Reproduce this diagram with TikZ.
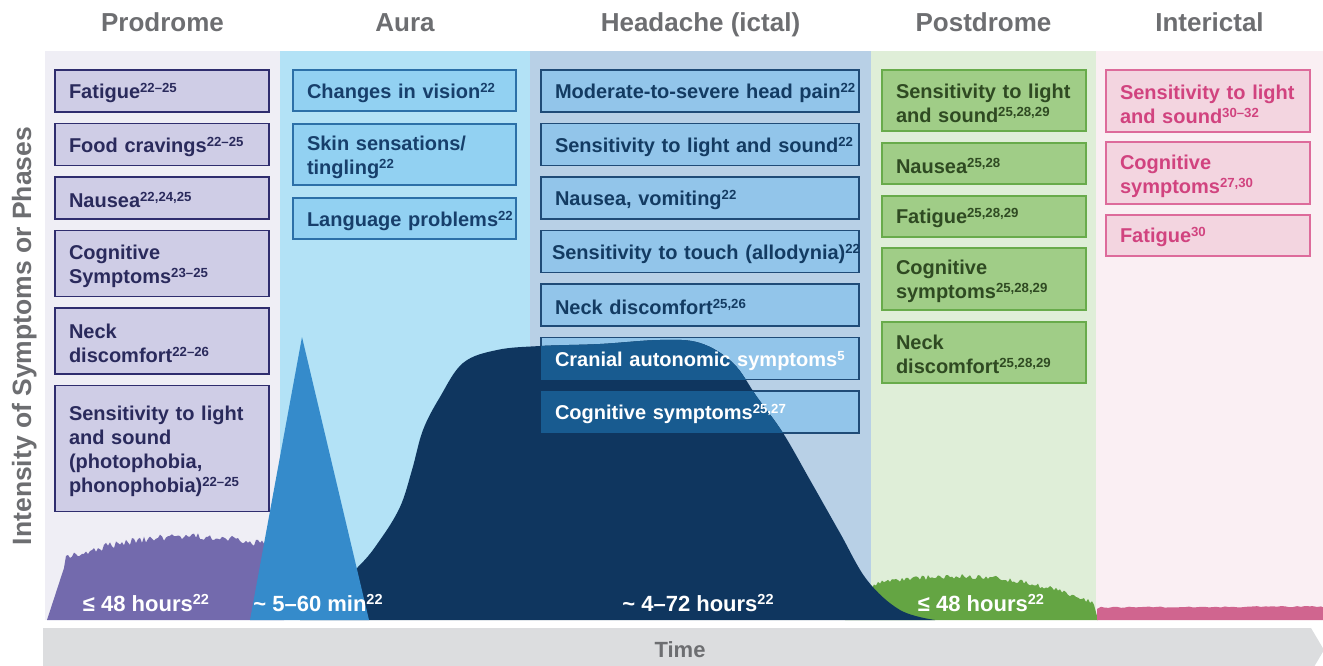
\documentclass[tikz,border=0pt]{standalone}
\usepackage{fontspec}
\setmainfont{Liberation Sans}
\usetikzlibrary{positioning}

\definecolor{greytxt}{HTML}{6D6E71}
\definecolor{timebar}{HTML}{DCDDDF}
\definecolor{probg}{HTML}{EFEEF5}
\definecolor{profill}{HTML}{CFCDE6}
\definecolor{proline}{HTML}{2F2D6E}
\definecolor{protxt}{HTML}{2A2A5C}
\definecolor{prowave}{HTML}{736AAD}
\definecolor{aurbg}{HTML}{B3E2F6}
\definecolor{aurfill}{HTML}{92D1F2}
\definecolor{aurline}{HTML}{2C70A8}
\definecolor{aurtxt}{HTML}{173F6B}
\definecolor{aurpeak}{HTML}{358BCB}
\definecolor{heabg}{HTML}{B8D0E6}
\definecolor{heafill}{HTML}{92C5EA}
\definecolor{healine}{HTML}{1F4B77}
\definecolor{heatxt}{HTML}{133B62}
\definecolor{heamid}{HTML}{185B90}
\definecolor{heawave}{HTML}{0F365F}
\definecolor{posbg}{HTML}{DFEED8}
\definecolor{posfill}{HTML}{A0CD87}
\definecolor{posline}{HTML}{68AB4B}
\definecolor{postxt}{HTML}{2F4A22}
\definecolor{poswave}{HTML}{64A543}
\definecolor{intbg}{HTML}{FAEFF3}
\definecolor{intfill}{HTML}{F3D5E0}
\definecolor{intline}{HTML}{DD6B9B}
\definecolor{inttxt}{HTML}{D1437F}
\definecolor{intwave}{HTML}{D0658F}

% reference numbers
\newcommand{\rf}[1]{\raisebox{0.3em}{\scalebox{0.66}{#1}}}
% outline of the headache phase
\newcommand{\headcurve}{plot[smooth, tension=0.6] coordinates {(300,620) (357,568) (380,540) (400,507) (412,470) (423,430) (440,397) (463,363) (497,350) (540,346) (600,344) (660,340) (700,343) (733,363) (757,397) (783,433) (810,480) (840,533) (867,580) (900,610) (935,620)} -- cycle}

\pgfdeclarelayer{bg}
\pgfdeclarelayer{curve}
\pgfdeclarelayer{over}
\pgfsetlayers{bg,curve,over,main}

\begin{document}
\begin{tikzpicture}[x=1pt, y=-1pt, node distance=11.5pt,
    phase/.style={rectangle, inner sep=0pt, outer sep=0pt, minimum height=569pt, anchor=north west},
    head/.style={font=\fontsize{26}{30}\selectfont\bfseries, text=greytxt, inner sep=0pt, anchor=base},
    sym/.style={rectangle, line width=1.5pt, inner xsep=14pt, inner ysep=0pt, outer sep=0pt, align=left,
        font=\fontsize{20}{24}\selectfont\bfseries, minimum height=42pt,
        execute at begin node={\rule{0pt}{20pt}}},
    probox/.style={sym, draw=proline, fill=profill, text=protxt, text width=186pt},
    aurbox/.style={sym, draw=aurline, fill=aurfill, text=aurtxt, text width=195pt, minimum height=41pt},
    heabox/.style={sym, draw=healine, fill=heafill, text=heatxt, text width=290pt},
    posbox/.style={sym, draw=posline, fill=posfill, text=postxt, text width=176pt, line width=2pt},
    intbox/.style={sym, draw=intline, fill=intfill, text=inttxt, text width=176pt, line width=2pt},
    dur/.style={font=\fontsize{22}{26}\selectfont\bfseries, text=white, inner sep=0pt, anchor=base},
    declare function={prolevel(\x)=537+0.0014*(\x-190)*(\x-190);
        poslevel(\x)=577+(\x<960 ? 0.00106*(\x-960)*(\x-960) : 0.00147*(\x-960)*(\x-960));}]

    \useasboundingbox (0,0) rectangle (1323,666);

    % phases
    \begin{pgfonlayer}{bg}
    \node[phase, fill=probg, minimum width=235pt] (pro) at (45,51) {};
    \node[phase, fill=aurbg, minimum width=250pt, right=0pt of pro] (aur) {};
    \node[phase, fill=heabg, minimum width=341pt, right=0pt of aur] (hea) {};
    \node[phase, fill=posbg, minimum width=225pt, right=0pt of hea] (pos) {};
    \node[phase, fill=intbg, minimum width=227pt, right=0pt of pos] (int) {};
    \end{pgfonlayer}

    \node[head] (tpro) at ([yshift=19pt]pro.north) {Prodrome};
    \node[head] (taur) at ([yshift=19pt]aur.north) {Aura};
    \node[head] (thea) at ([yshift=19pt]hea.north) {Headache (ictal)};
    \node[head] (tpos) at ([yshift=19pt]pos.north) {Postdrome};
    \node[head] (tint) at ([yshift=19pt]int.north) {Interictal};

    \node[head, rotate=90, font=\fontsize{26.5}{30}\selectfont\bfseries] (ylab) at (31,336) {Intensity of Symptoms or Phases};

    % prodrome
    \node[probox, anchor=north west] (p1) at (55,70) {Fatigue\rf{22–25}};
    \node[probox, below=of p1] (p2) {Food cravings\rf{22–25}};
    \node[probox, below=of p2] (p3) {Nausea\rf{22,24,25}};
    \node[probox, below=of p3, minimum height=66pt] (p4) {Cognitive\\Symptoms\rf{23–25}};
    \node[probox, below=of p4, minimum height=66pt] (p5) {Neck\\discomfort\rf{22–26}};
    \node[probox, below=of p5, minimum height=126pt] (p6) {Sensitivity to light\\and sound\\(photophobia,\\phonophobia)\rf{22–25}};

    % aura
    \node[aurbox, anchor=north west] (a1) at (293,70) {Changes in vision\rf{22}};
    \node[aurbox, below=13pt of a1, minimum height=61pt] (a2) {Skin sensations/\\tingling\rf{22}};
    \node[aurbox, below=13pt of a2] (a3) {\mbox{Language problems\rf{22}}};

    % headache
    \node[heabox, anchor=north west] (h1) at (541,70) {\mbox{Moderate-to-severe head pain\rf{22}}};
    \node[heabox, below=of h1] (h2) {\mbox{Sensitivity to light and sound\rf{22}}};
    \node[heabox, below=of h2] (h3) {Nausea, vomiting\rf{22}};
    \node[heabox, below=of h3, inner xsep=11pt, text width=296pt] (h4) {\mbox{Sensitivity to touch (allodynia)\rf{22}}};
    \node[heabox, below=of h4] (h5) {Neck discomfort\rf{25,26}};
    \node[heabox, below=of h5, draw=none, fill=none, text=white] (h6) {Cranial autonomic symptoms\rf{5}};
    \node[heabox, below=of h6, draw=none, fill=none, text=white] (h7) {Cognitive symptoms\rf{25,27}};

    \begin{pgfonlayer}{bg}
    \draw[healine, fill=heafill, line width=1.5pt] (h6.north west) rectangle (h6.south east);
    \draw[healine, fill=heafill, line width=1.5pt] (h7.north west) rectangle (h7.south east);
    \end{pgfonlayer}

    % postdrome
    \node[posbox, anchor=north west, minimum height=61pt] (d1) at (882,70.5) {Sensitivity to light\\and sound\rf{25,28,29}};
    \node[posbox, below=of d1, minimum height=41pt] (d2) {Nausea\rf{25,28}};
    \node[posbox, below=of d2, minimum height=41pt] (d3) {Fatigue\rf{25,28,29}};
    \node[posbox, below=of d3, minimum height=62pt] (d4) {Cognitive\\symptoms\rf{25,28,29}};
    \node[posbox, below=of d4, minimum height=61pt] (d5) {Neck\\discomfort\rf{25,28,29}};

    % interictal
    \node[intbox, anchor=north west, minimum height=61.5pt] (i1) at (1106,70.5) {Sensitivity to light\\and sound\rf{30–32}};
    \node[intbox, below=10.5pt of i1, minimum height=61.5pt] (i2) {Cognitive\\symptoms\rf{27,30}};
    \node[intbox, below=10.5pt of i2, minimum height=41pt] (i3) {Fatigue\rf{30}};

    % intensity curves
    \pgfmathsetseed{4}
    \fill[prowave] (47,620) -- (64,568) \foreach \x in {66,68,...,282} { -- (\x,{prolevel(\x)+3-7*rnd}) } -- (284,620) -- cycle;
    \fill[intwave] (1097,620) -- (1097,609) \foreach \x in {1101,1105,...,1321} { -- (\x,{608-0.004*(\x-1097)-1.2*rnd}) } -- (1325,608) -- (1325,620) -- cycle;

    \begin{pgfonlayer}{curve}
    \fill[poswave] (845,620) -- (872,588) \foreach \x in {874,876,...,1094} { -- (\x,{poslevel(\x)+2-5*rnd}) } -- (1098,620) -- cycle;
    \fill[heawave] \headcurve;
    \end{pgfonlayer}

    \begin{pgfonlayer}{over}
    \begin{scope}
        \clip \headcurve;
        \fill[heamid] (h6.north west) rectangle (h6.south east);
        \fill[heamid] (h7.north west) rectangle (h7.south east);
    \end{scope}
    \end{pgfonlayer}

    \fill[aurpeak] (250,620) -- (302,337) -- (369,620) -- cycle;

    % durations
    \node[dur] (dpro) at (146,611) {≤ 48 hours\rf{22}};
    \node[dur] (daur) at (318,611) {\textasciitilde\ 5–60 min\rf{22}};
    \node[dur] (dhea) at (698,611) {\textasciitilde\ 4–72 hours\rf{22}};
    \node[dur] (dpos) at (981,611) {≤ 48 hours\rf{22}};

    % time axis
    \fill[timebar] (43,628) -- (1311,628) -- (1324,650) -- (1311,672) -- (43,672) -- cycle;
    \node[font=\fontsize{22}{26}\selectfont\bfseries, text=greytxt] (time) at (680,650) {Time};
\end{tikzpicture}
\end{document}
